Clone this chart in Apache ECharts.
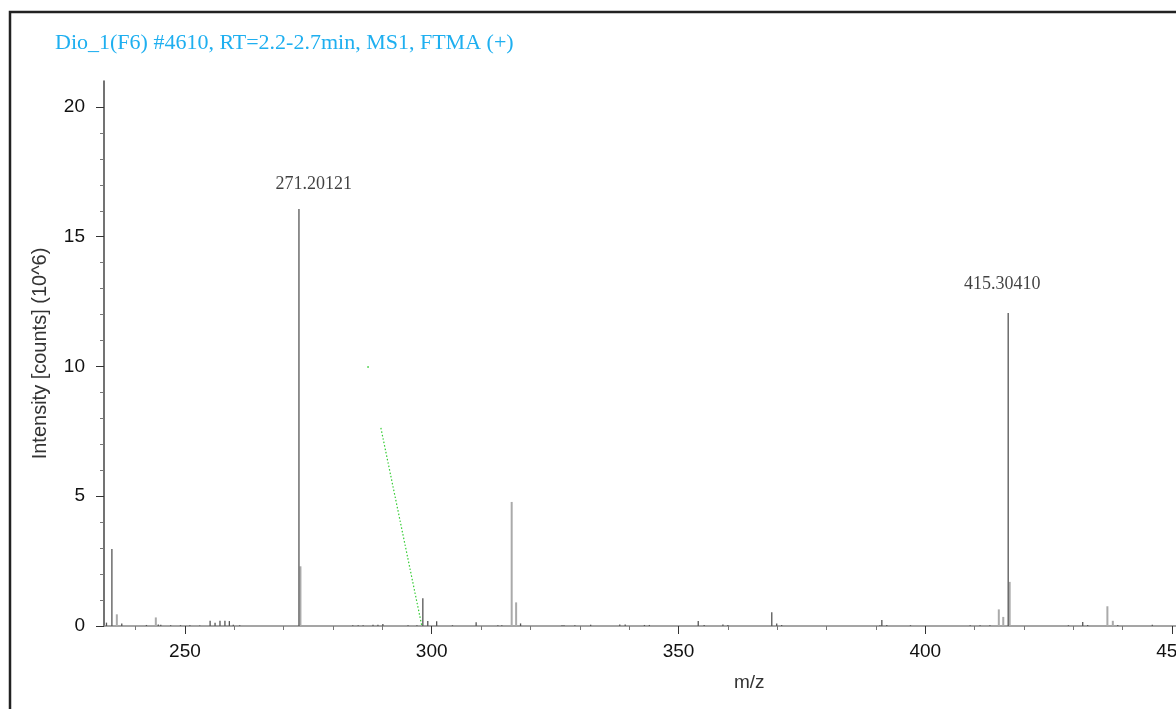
<!DOCTYPE html>
<html>
<head>
<meta charset="utf-8">
<script src="https://cdn.jsdelivr.net/npm/echarts@6/dist/echarts.min.js"></script>
<style>
  html, body { margin: 0; padding: 0; background: #fff; }
  #chart { width: 1176px; height: 709px; }
</style>
</head>
<body>
<div id="chart"></div>
<script>
// dark sticks (m/z, intensity in 10^6 counts)
var darkMz = [234.1, 235.2, 237.2, 242.2, 244.6, 245.1, 247.1, 249.1, 251.0, 253.0,
  255.1, 256.1, 257.1, 258.1, 259.0, 259.8, 261.1, 273.1, 284.0, 285.1, 286.1, 288.1,
  289.1, 290.1, 295.2, 297.0, 298.2, 299.2, 301.0, 304.2, 309.0, 313.4, 314.2, 318.0,
  326.4, 326.8, 329.0, 332.2, 338.1, 339.2, 343.1, 344.1, 354.0, 355.2, 359.0, 360.0,
  368.9, 369.9, 370.9, 390.8, 391.2, 392.2, 397.0, 409.1, 411.1, 413.1, 416.8, 429.0,
  431.9, 432.9, 439.0, 446.0];
var darkInt = [0.13, 2.97, 0.10, 0.04, 0.06, 0.05, 0.03, 0.03, 0.03, 0.02,
  0.20, 0.13, 0.20, 0.20, 0.19, 0.05, 0.03, 16.07, 0.03, 0.03, 0.03, 0.05,
  0.05, 0.08, 0.03, 0.03, 1.07, 0.19, 0.18, 0.03, 0.14, 0.03, 0.03, 0.10,
  0.03, 0.03, 0.03, 0.05, 0.06, 0.06, 0.04, 0.04, 0.19, 0.04, 0.06, 0.04,
  0.53, 0.10, 0.04, 0.03, 0.23, 0.04, 0.03, 0.03, 0.03, 0.03, 12.06, 0.03,
  0.15, 0.04, 0.04, 0.05];

// light grey sticks
var lightMz = [236.2, 244.1, 273.4, 316.2, 317.1, 414.9, 415.8, 417.1, 436.9, 438.0];
var lightInt = [0.45, 0.33, 2.3, 4.78, 0.91, 0.64, 0.35, 1.7, 0.76, 0.2];

// green dotted trace
var greenMz = [289.7, 298.0];
var greenInt = [7.63, 0.0];
var greenDotMz = [287.1];
var greenDotInt = [9.98];

// peak annotations
var annotMz = [276.1, 415.6];
var annotInt = [17.03, 13.18];
var annotText = ['271.20121', '415.30410'];

var xMajor = [250, 300, 350, 400, 450];
var xMinor = [240, 260, 270, 280, 290, 310, 320, 330, 340, 360, 370, 380, 390, 410, 420, 430, 440];
var yMajor = [0, 5, 10, 15, 20];
var yMinor = [1, 2, 3, 4, 6, 7, 8, 9, 11, 12, 13, 14, 16, 17, 18, 19];

var titleText = 'Dio_1(F6) #4610, RT=2.2-2.7min, MS1, FTMA (+)';

function pairs(xs, ys) {
  return xs.map(function (x, i) { return [x, ys[i]]; });
}

function stick(color, width) {
  return function (params, api) {
    var top = api.coord([api.value(0), api.value(1)]);
    var base = api.coord([api.value(0), 0]);
    return {
      type: 'line',
      shape: { x1: top[0], y1: top[1], x2: base[0], y2: base[1] },
      style: { stroke: color, lineWidth: width }
    };
  };
}

var sans = 'Liberation Sans, Arial, sans-serif';
var serif = 'Liberation Serif, Times New Roman, serif';

var chart = echarts.init(document.getElementById('chart'));

chart.setOption({
  backgroundColor: '#fff',
  animation: false,
  title: {
    text: titleText,
    left: 55,
    top: 32,
    padding: 0,
    textStyle: { fontFamily: serif, fontSize: 22, fontWeight: 'normal', color: '#1eaff0' }
  },
  graphic: [
    {
      type: 'rect',
      shape: { x: 10, y: 12, width: 1300, height: 800 },
      style: { fill: 'none', stroke: '#222', lineWidth: 2.5 }
    },
    {
      type: 'text',
      left: 734,
      top: 673,
      style: { text: 'm/z', font: '19px ' + sans, fill: '#333' }
    }
  ],
  // the plot runs past the right edge of the picture, so max sits just beyond 450
  grid: { left: 104, right: 0, top: 81, bottom: 83, outerBoundsMode: 'none' },
  xAxis: [
    {
      type: 'value',
      min: 233.6,
      max: 450.8,
      axisLine: { show: true, lineStyle: { color: '#888', width: 1.5 } },
      axisTick: { show: true, length: 8, customValues: xMajor, lineStyle: { color: '#333' } },
      axisLabel: { customValues: xMajor, color: '#111', fontFamily: sans, fontSize: 19, margin: 16 },
      splitLine: { show: false }
    },
    {
      type: 'value',
      min: 233.6,
      max: 450.8,
      position: 'bottom',
      offset: 0,
      axisLine: { show: false },
      axisTick: { show: true, length: 4, customValues: xMinor, lineStyle: { color: '#777' } },
      axisLabel: { show: false },
      splitLine: { show: false }
    }
  ],
  yAxis: [
    {
      type: 'value',
      min: 0,
      max: 21,
      name: 'Intensity [counts] (10^6)',
      nameLocation: 'middle',
      nameGap: 54,
      nameTextStyle: { fontFamily: sans, fontSize: 20, color: '#333' },
      axisLine: { show: true, lineStyle: { color: '#444', width: 1.5 } },
      axisTick: { show: true, length: 8, customValues: yMajor, lineStyle: { color: '#333' } },
      axisLabel: { customValues: yMajor, color: '#111', fontFamily: sans, fontSize: 19, margin: 19 },
      splitLine: { show: false }
    },
    {
      type: 'value',
      min: 0,
      max: 21,
      position: 'left',
      offset: 0,
      axisLine: { show: false },
      axisTick: { show: true, length: 4, customValues: yMinor, lineStyle: { color: '#777' } },
      axisLabel: { show: false },
      splitLine: { show: false }
    }
  ],
  series: [
    {
      name: 'light',
      type: 'custom',
      clip: true,
      renderItem: stick('#aaa', 2),
      data: pairs(lightMz, lightInt)
    },
    {
      name: 'dark',
      type: 'custom',
      clip: true,
      renderItem: stick('#555', 1.3),
      data: pairs(darkMz, darkInt)
    },
    {
      name: 'trace',
      type: 'line',
      symbol: 'none',
      data: pairs(greenMz, greenInt),
      lineStyle: { color: '#33cc33', width: 1.2, type: [1.5, 2] }
    },
    {
      name: 'traceDot',
      type: 'scatter',
      symbolSize: 2,
      itemStyle: { color: '#33cc33' },
      data: pairs(greenDotMz, greenDotInt)
    },
    {
      name: 'labels',
      type: 'scatter',
      symbolSize: 0,
      silent: true,
      data: pairs(annotMz, annotInt),
      label: {
        show: true,
        position: 'inside',
        formatter: function (p) { return annotText[p.dataIndex]; },
        fontFamily: serif,
        fontSize: 18,
        color: '#111'
      }
    }
  ]
});
</script>
</body>
</html>
